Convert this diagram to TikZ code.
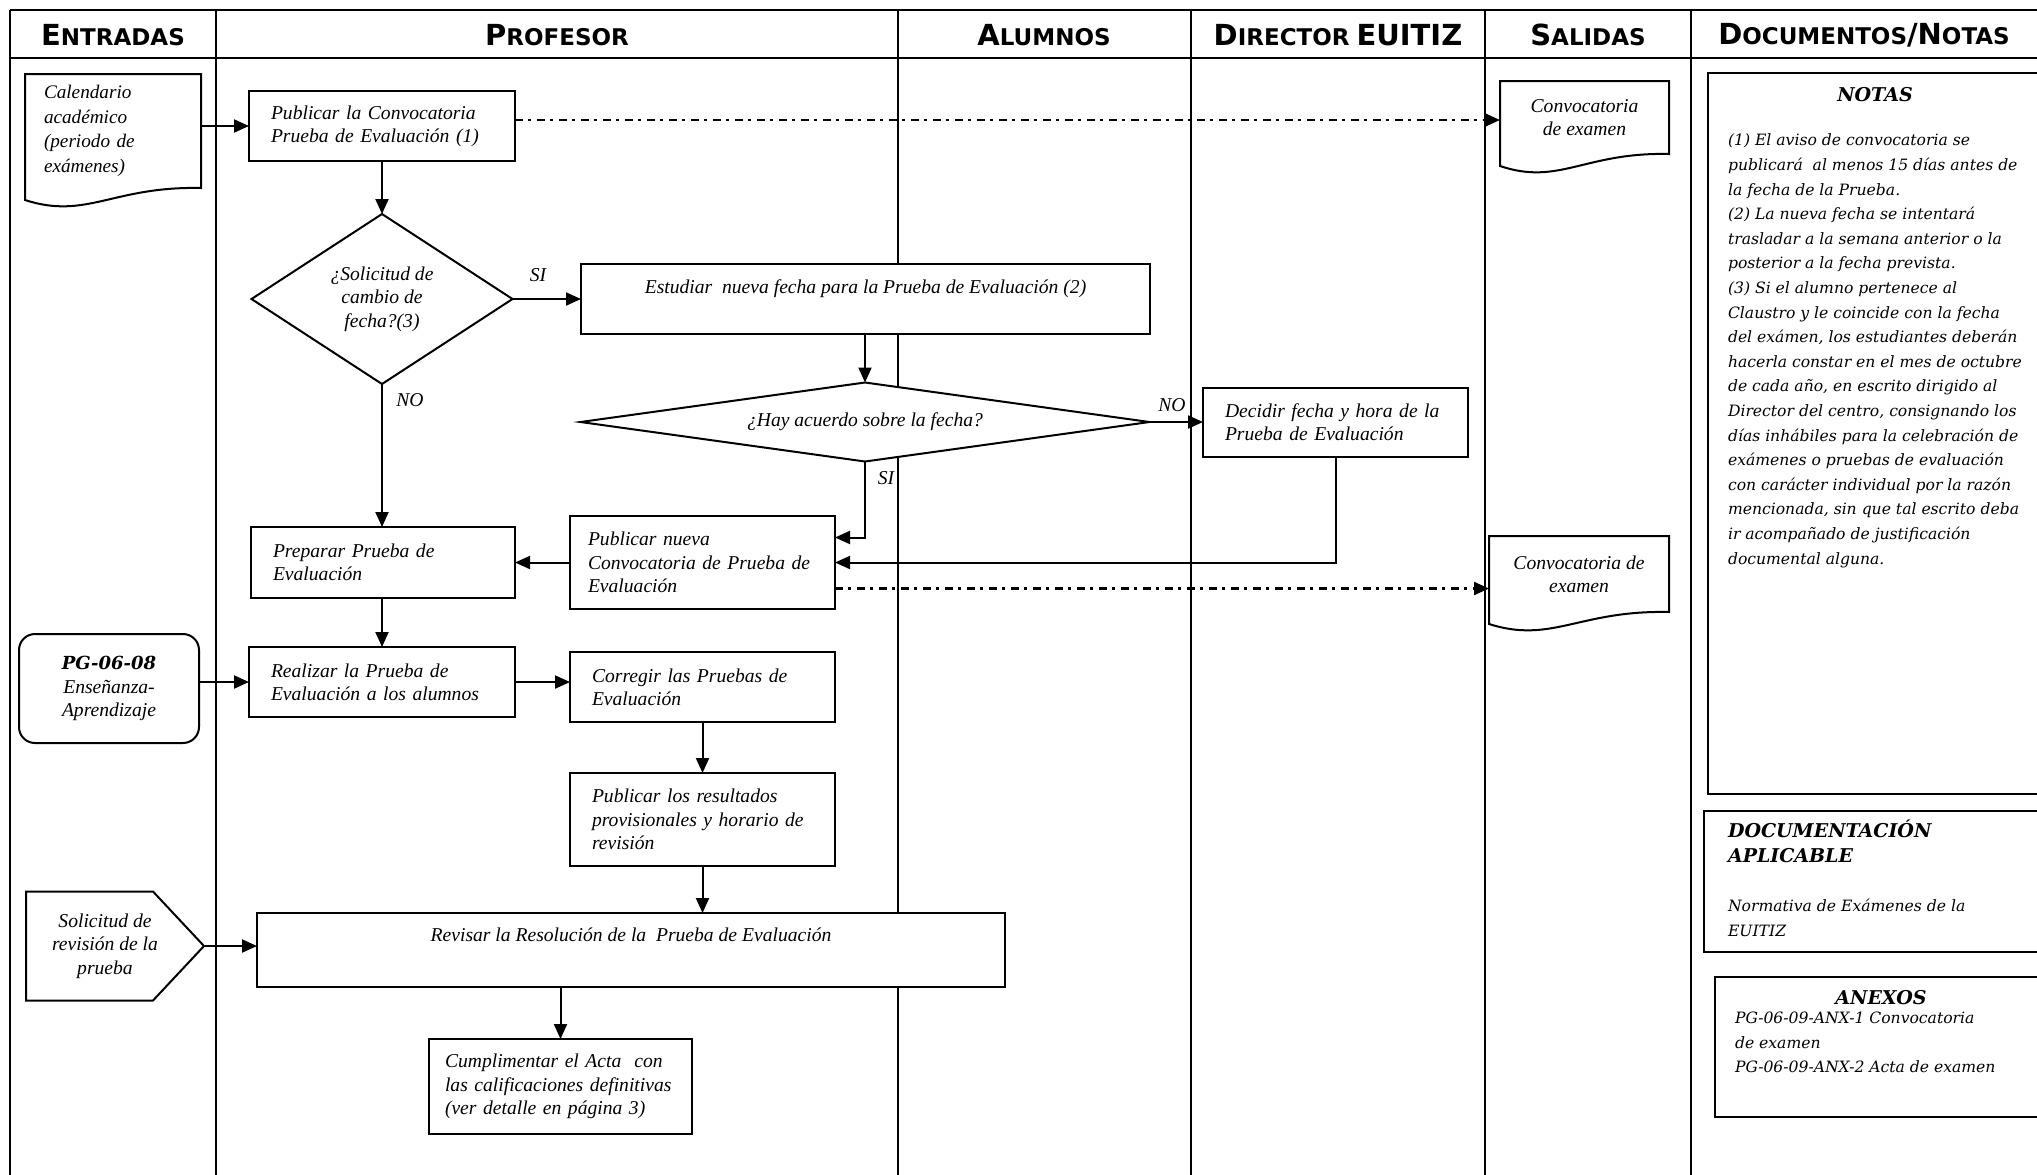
\documentclass[tikz,border=0pt]{standalone}
\usepackage{fontspec}
\setmainfont{Liberation Serif}
\newfontfamily\notefont{DejaVu Serif}
\newfontfamily\headfont{DejaVu Sans}
\usetikzlibrary{shapes.geometric,arrows.meta,calc}
\newcommand\bxfont{\fontsize{9.8}{11.7}\selectfont\itshape}
\newcommand\calfont{\fontsize{9.6}{12.3}\selectfont\itshape}
\newcommand\notebody{\notefont\fontsize{7.8}{12.3}\selectfont\itshape}
\newcommand\notetitle{\notefont\fontsize{9.5}{12.5}\selectfont\bfseries\itshape}
\newcommand\hdsc[2]{{\fontsize{14.5}{15}\selectfont #1}{\fontsize{11.5}{12}\selectfont #2}}
\newcommand\hdbig[1]{{\fontsize{14.5}{15}\selectfont #1}}
\newcommand\docwave[1]{\draw[line width=1pt] let \p1=(#1.north west), \p2=(#1.south east), \n1={\x2-\x1} in (\x1,\y1) -- (\x2,\y1) -- (\x2,\y2) .. controls ({\x1+0.5*\n1},{\y2+1pt}) and ({\x1+0.35*\n1},{\y2-16pt}) .. (\x1,{\y2-6pt}) -- cycle;}
\begin{document}
\begin{tikzpicture}[x=0.5pt,y=-0.5pt,
  every node/.style={inner sep=0pt, outer sep=0pt},
  ln/.style={line width=1pt},
  box/.style={draw, fill=white, line width=1pt, font=\bxfont, align=left, inner xsep=11pt, inner ysep=0pt},
  dia/.style={draw, fill=white, diamond, line width=1pt, font=\bxfont, align=center, inner sep=0pt},
  arr/.style={line width=1pt, -{Triangle[length=7.5pt,width=6.5pt]}},
  dd/.style={arr, line width=1.1pt, dash pattern=on 4pt off 2.5pt on 1.5pt off 3pt},
  lbl/.style={font=\bxfont},
  hd/.style={font=\headfont\bfseries},
  ]
\useasboundingbox (0,0) rectangle (2037,1174);
% lanes
\draw[line width=1.4pt] (10,10) -- (2050,10);
\draw[line width=1.4pt] (10,58) -- (2050,58);
\foreach \x in {10,216,898,1191,1485,1691} \draw[line width=1.3pt] (\x,10) -- (\x,1180);
% headers
\node[hd] (hE) at (113,35) {\hdsc{E}{NTRADAS}};
\node[hd] (hP) at (557,35) {\hdsc{P}{ROFESOR}};
\node[hd] (hA) at (1044,35) {\hdsc{A}{LUMNOS}};
\node[hd] (hD) at (1338,35) {\hdsc{D}{IRECTOR} \hdbig{EUITIZ}};
\node[hd] (hS) at (1588,35) {\hdsc{S}{ALIDAS}};
\node[hd] (hN) at (1864,35) {\hdsc{D}{OCUMENTOS}\hdbig{/}\hdsc{N}{OTAS}};
% flow
\node[font=\calfont, align=left, text width=69pt, inner xsep=9.5pt, minimum height=57pt] (cal) at (113,131) {Calendario\\académico\\(periodo de\\exámenes)};
\docwave{cal}
\node[box, text width=111pt, minimum height=35pt] (pub1) at (382,126) {Publicar la Convocatoria\\Prueba de Evaluación (1)};
\draw[arr] (cal.east |- pub1.west) -- (pub1.west);
\node[font=\bxfont, align=center, minimum width=84.5pt, minimum height=36.5pt] (conv1) at (1584.5,117.5) {Convocatoria\\de examen};
\docwave{conv1}
\coordinate (pub1A) at ([yshift=3pt]pub1.east);
\draw[dd] (pub1A) -- (pub1A -| conv1.west);

\node[dia, aspect=1.535, minimum width=130.5pt, minimum height=85pt] (d1) at (382,299) {¿Solicitud de\\cambio de\\fecha?(3)};
\draw[arr] (pub1.south) -- (d1.north);
\node[box, inner xsep=0pt, minimum width=284.5pt, text height=14.5pt, text depth=20.5pt] (est) at (865.5,299) {Estudiar\ \ nueva fecha para la Prueba de Evaluación (2)};
\draw[arr] (d1.east) -- (est.west);
\node[lbl] (si1) at (538,275) {SI};

\node[dia, aspect=7.2, minimum width=284.5pt, minimum height=39.5pt] (d2) at (865,422) {¿Hay acuerdo sobre la fecha?};
\draw[arr] (d2.north |- est.south) -- (d2.north);
\node[box, text width=110.5pt, minimum height=34.5pt] (dec) at (1335.5,422.5) {Decidir fecha y hora de la\\Prueba de Evaluación};
\draw[arr] (d2.east) -- (d2.east -| dec.west);
\node[lbl] (no2) at (1172,405) {NO};

\node[box, text width=114.5pt, inner xsep=9pt, minimum height=46.5pt] (pubn) at (702.5,562.5) {Publicar nueva\\Convocatoria de Prueba de\\Evaluación};
\coordinate (pubnA) at ([yshift=12.5pt]pubn.east);
\draw[arr] (d2.south) |- (pubnA);
\node[lbl] (si2) at (886,478) {SI};
\draw[arr] (dec.south) |- (pubn.east);
\coordinate (pubnB) at ([yshift=-13pt]pubn.east);
\node[font=\bxfont, align=center, minimum width=90pt, minimum height=38pt] (conv2) at (1579,574) {Convocatoria de\\examen};
\docwave{conv2}
\draw[dd] (pubnB) -- (pubnB -| conv2.west);

\node[box, text width=110pt, minimum height=35.5pt] (prep) at (383,562.5) {Preparar Prueba de\\Evaluación};
\draw[arr] (d1.south) -- (d1.south |- prep.north);
\node[lbl] (no1) at (410,400) {NO};
\draw[arr] (pubn.west) -- (pubn.west -| prep.east);

\node[box, text width=111pt, minimum height=35pt] (real) at (382,682) {Realizar la Prueba de\\Evaluación a los alumnos};
\draw[arr] (real.north |- prep.south) -- (real.north);
\node[font=\bxfont, draw, fill=white, line width=1pt, rounded corners=8pt, align=center, minimum width=90pt, minimum height=54.5pt] (pg) at (109,688.5) {{\notefont\fontsize{9}{11}\selectfont\bfseries\itshape PG-06-08}\\Enseñanza-\\Aprendizaje};
\draw[arr] (pg.east |- real.west) -- (real.west);

\node[box, text width=110.5pt, minimum height=35pt] (corr) at (702.5,687) {Corregir las Pruebas de\\Evaluación};
\draw[arr] (real.east) -- (real.east -| corr.west);
\node[box, text width=110.5pt, minimum height=46.5pt] (pubr) at (702.5,819.5) {Publicar los resultados\\provisionales y horario de\\revisión};
\draw[arr] (corr.south) -- (pubr.north);

\node[box, inner xsep=0pt, minimum width=374pt, text height=14pt, text depth=23pt] (rev) at (631,950) {Revisar la Resolución de la\ \ Prueba de Evaluación};
\draw[arr] (pubr.south) -- (pubr.south |- rev.north);

\node[font=\bxfont, align=center, minimum width=79pt, minimum height=54.5pt] (sol) at (105,946) {Solicitud de\\revisión de la\\prueba};
\draw[ln] (sol.north west) -- ([xshift=-15.5pt]sol.north east) -- ([xshift=10pt]sol.east) -- ([xshift=-15.5pt]sol.south east) -- (sol.south west) -- cycle;
\coordinate (soltip) at ([xshift=10pt]sol.east);
\draw[arr] (soltip) -- (soltip -| rev.west);

\node[box, text width=115.5pt, inner xsep=8pt, minimum height=47.5pt] (cump) at (560.5,1086.5) {Cumplimentar el Acta\ \ con\\las calificaciones definitivas\\(ver detalle en página 3)};
\draw[arr] (rev.south -| cump.north) -- (cump.north);

% notes
\node[draw, line width=1.1pt, anchor=north west, minimum width=175pt, minimum height=360.5pt] (notas) at (1708,73) {};
\node[font=\notetitle] (notasT) at (1875,95) {NOTAS};
\node[font=\notebody, align=left, anchor=north west] (notasB) at (1728,134) {(1) El aviso de convocatoria se\\publicará\ \ al menos 15 días antes de\\la fecha de la Prueba.\\(2) La nueva fecha se intentará\\trasladar a la semana anterior o la\\posterior a la fecha prevista.\\(3) Si el alumno pertenece al\\Claustro y le coincide con la fecha\\del exámen, los estudiantes deberán\\hacerla constar en el mes de octubre\\de cada año, en escrito dirigido al\\Director del centro, consignando los\\días inhábiles para la celebración de\\exámenes o pruebas de evaluación\\con carácter individual por la razón\\mencionada, sin que tal escrito deba\\ir acompañado de justificación\\documental alguna.};

\node[draw, line width=1.1pt, anchor=north west, minimum width=175pt, minimum height=70.5pt] (docap) at (1704,811) {};
\node[font=\notebody, align=left, anchor=north west] (docapT) at (1728,820) {{\notetitle DOCUMENTACIÓN}\\{\notetitle APLICABLE}\\[12.5pt]Normativa de Exámenes de la\\EUITIZ};

\node[draw, line width=1.1pt, anchor=north west, minimum width=175pt, minimum height=70pt] (anex) at (1715,977) {};
\node[font=\notetitle] (anexT) at (1881,998) {ANEXOS};
\node[font=\notebody, align=left, anchor=north west] (anexB) at (1735,1012) {PG-06-09-ANX-1 Convocatoria\\de examen\\PG-06-09-ANX-2 Acta de examen};
\end{tikzpicture}
\end{document}
